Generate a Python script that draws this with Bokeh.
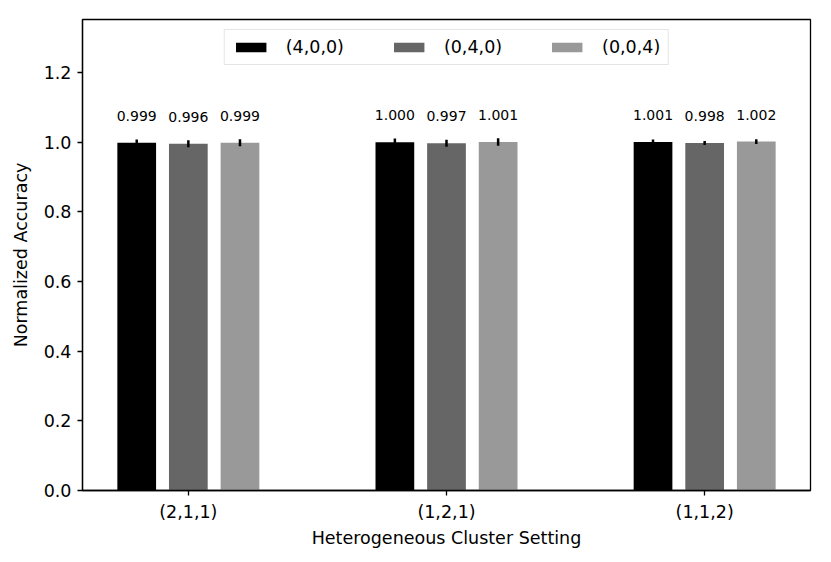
from bokeh.plotting import figure
from bokeh.models import Range1d, FixedTicker, PrintfTickFormatter, ColumnDataSource
from bokeh.embed import file_html
from bokeh.resources import INLINE
from bokeh.core.properties import value

# ---- data ----
settings = ["(2,1,1)", "(1,2,1)", "(1,1,2)"]
series_names = ["(4,0,0)", "(0,4,0)", "(0,0,4)"]
acc_400 = [0.999, 1.000, 1.001]
acc_040 = [0.996, 0.997, 0.998]
acc_004 = [0.999, 1.001, 1.002]
err_400 = [0.009, 0.011, 0.007]
err_040 = [0.010, 0.010, 0.006]
err_004 = [0.010, 0.011, 0.007]
y_ticks = [0.0, 0.2, 0.4, 0.6, 0.8, 1.0, 1.2]

colors = ["#000000", "#666666", "#999999"]
offsets = [-0.2, 0.0, 0.2]
bar_w = 0.15
FONT = "DejaVu Sans"

p = figure(width=823, height=554, output_backend="svg", toolbar_location=None,
           x_range=Range1d(-0.41, 2.41), y_range=Range1d(0, 1.002 * 1.35),
           min_border_left=82, min_border_right=13, min_border_top=19, min_border_bottom=64)

base = list(range(len(settings)))
for name, vals, errs, col, off in zip(series_names, [acc_400, acc_040, acc_004],
                                      [err_400, err_040, err_004], colors, offsets):
    xs = [b + off for b in base]
    src = ColumnDataSource(dict(x=xs, top=vals, lo=[v - e for v, e in zip(vals, errs)],
                                hi=[v + e for v, e in zip(vals, errs)],
                                lab=["%.3f" % v for v in vals]))
    p.vbar(x="x", top="top", width=bar_w, source=src, fill_color=col, line_color=None,
           legend_label=name)
    p.segment(x0="x", y0="lo", x1="x", y1="hi", source=src, line_color="black", line_width=2.5)
    p.text(x="x", y="top", text="lab", source=src, text_align="center",
           text_baseline="alphabetic", y_offset=-27, text_font=value(FONT),
           text_font_size="14px", text_color="black")

# axes
p.xgrid.visible = False
p.ygrid.visible = False
p.outline_line_color = "black"
p.outline_line_width = 1.3
p.outline_line_alpha = 1.0

p.xaxis.ticker = FixedTicker(ticks=base)
p.xaxis.major_label_overrides = {i: s for i, s in enumerate(settings)}
p.yaxis.ticker = FixedTicker(ticks=y_ticks)
p.yaxis.formatter = PrintfTickFormatter(format="%.1f")
for ax in (p.xaxis, p.yaxis):
    ax.axis_line_color = "black"
    ax.axis_line_width = 1.3
    ax.major_tick_line_color = "black"
    ax.major_tick_line_width = 1.3
    ax.major_tick_out = 5
    ax.major_tick_in = 0
    ax.minor_tick_line_color = None
    ax.major_label_text_font = FONT
    ax.major_label_text_font_size = "17.5px"
    ax.major_label_text_color = "black"
    ax.axis_label_text_font = FONT
    ax.axis_label_text_font_size = "17.5px"
    ax.axis_label_text_font_style = "normal"
    ax.axis_label_text_color = "black"
    ax.major_label_standoff = 6
p.xaxis.axis_label = "Heterogeneous Cluster Setting"
p.yaxis.axis_label = "Normalized Accuracy"
p.xaxis.axis_label_standoff = 3
p.yaxis.axis_label_standoff = 10

# legend
lg = p.legend[0]
lg.location = "top_center"
lg.orientation = "horizontal"
lg.label_text_font = FONT
lg.label_text_font_size = "17.5px"
lg.label_text_color = "black"
lg.glyph_width = 38
lg.glyph_height = 12
lg.label_standoff = 16
lg.spacing = 46
lg.padding = 7
lg.margin = 10
lg.border_line_color = "#cccccc"
lg.border_line_width = 1
lg.background_fill_alpha = 0.8

open("out.html", "w").write(file_html(p, INLINE))
